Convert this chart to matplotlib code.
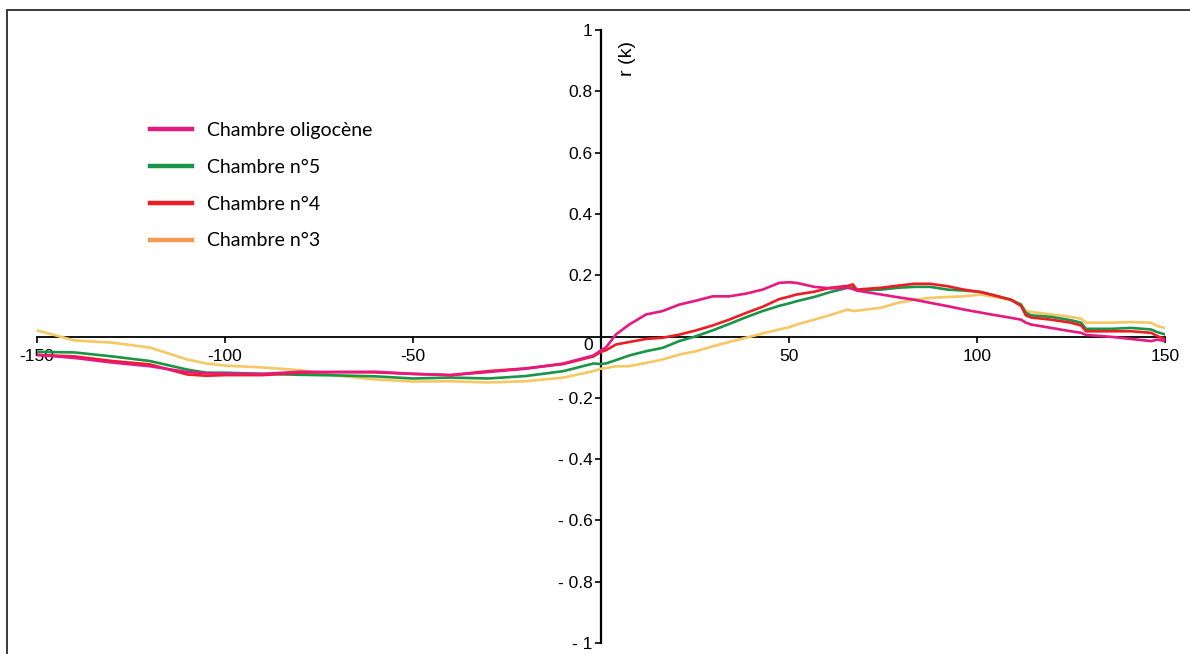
import matplotlib
matplotlib.use("Agg")
import matplotlib.pyplot as plt
from matplotlib.lines import Line2D
from matplotlib.patches import Rectangle

# ── Données ───────────────────────────────────────────────────────────────────
K = [-150, -140, -130, -120, -110, -105, -100,
     -90, -80, -70, -60, -50, -40, -30, -20, -10, -2,
     0, 1.3, 4, 7.5, 12, 16.4, 20.8, 25.3, 29.7, 34.1,
     38.6, 43, 47.4, 50, 52, 56.7, 61, 65.6, 67, 68,
     74.5, 79, 83.3, 87.5, 92.2, 96.5, 101, 103.7, 109, 111.7,
     113, 114.4, 119.7, 125, 127.7, 129, 135.6, 141, 146.3, 148,
     150]

R_N3 = [0.02, -0.013, -0.02, -0.036, -0.075, -0.088, -0.095,
        -0.101, -0.11, -0.128, -0.14, -0.147, -0.146, -0.15, -0.146, -0.134, -0.113,
        -0.105, -0.103, -0.097, -0.097, -0.086, -0.075, -0.059, -0.048, -0.032, -0.018,
        -0.004, 0.01, 0.023, 0.03, 0.039, 0.055, 0.07, 0.088, 0.083, 0.084,
        0.094, 0.11, 0.12, 0.126, 0.129, 0.131, 0.137, 0.131, 0.12, 0.104,
        0.083, 0.08, 0.072, 0.064, 0.058, 0.045, 0.045, 0.047, 0.045, 0.034,
        0.028]

R_N5 = [-0.05, -0.052, -0.065, -0.08, -0.108, -0.118, -0.118,
        -0.122, -0.125, -0.127, -0.13, -0.137, -0.134, -0.137, -0.129, -0.113, -0.088,
        -0.09, -0.088, -0.077, -0.062, -0.048, -0.037, -0.015, 0.001, 0.02, 0.041,
        0.063, 0.083, 0.1, 0.108, 0.115, 0.129, 0.145, 0.159, 0.16, 0.151,
        0.153, 0.159, 0.162, 0.162, 0.153, 0.15, 0.145, 0.137, 0.12, 0.104,
        0.077, 0.069, 0.064, 0.053, 0.045, 0.025, 0.025, 0.028, 0.023, 0.014,
        0.007]

R_N4 = [-0.06, -0.065, -0.08, -0.091, -0.124, -0.128, -0.126,
        -0.126, -0.118, -0.116, -0.117, -0.122, -0.126, -0.113, -0.104, -0.09, -0.065,
        -0.05, -0.045, -0.026, -0.018, -0.008, -0.004, 0.006, 0.02, 0.036, 0.055,
        0.077, 0.097, 0.122, 0.13, 0.137, 0.146, 0.159, 0.165, 0.17, 0.153,
        0.159, 0.166, 0.172, 0.172, 0.164, 0.153, 0.145, 0.137, 0.12, 0.1,
        0.069, 0.062, 0.055, 0.045, 0.036, 0.017, 0.017, 0.017, 0.012, 0.001,
        -0.008]

R_OLIGO = [-0.06, -0.07, -0.085, -0.097, -0.116, -0.12, -0.121,
           -0.122, -0.115, -0.116, -0.115, -0.122, -0.126, -0.116, -0.105, -0.088, -0.062,
           -0.045, -0.036, 0.007, 0.039, 0.072, 0.083, 0.104, 0.117, 0.131, 0.131,
           0.14, 0.153, 0.175, 0.177, 0.175, 0.162, 0.157, 0.159, 0.155, 0.15,
           0.137, 0.128, 0.12, 0.11, 0.099, 0.088, 0.078, 0.072, 0.061, 0.055,
           0.045, 0.039, 0.028, 0.017, 0.012, 0.005, -0.001, -0.008, -0.015, -0.01,
           -0.015]

LABELS = ["Chambre oligocène", "Chambre n°5", "Chambre n°4", "Chambre n°3"]

X_TICKS = [-150, -100, -50, 50, 100, 150]
X_TICKLABELS = ["-150", "-100", "-50", "50", "100", "150"]
Y_TICKS = [-1, -0.8, -0.6, -0.4, -0.2, 0.2, 0.4, 0.6, 0.8, 1]
Y_TICKLABELS = ["- 1", "- 0.8", "- 0.6", "- 0.4", "- 0.2", "0.2", "0.4", "0.6", "0.8", "1"]

# ── Couleurs ─────────────────────────────────────────────────────────────────
C_OLIGO = "#e5197f"
C_N5 = "#1a9447"
C_N4 = "#ee1c24"
C_N3 = "#f6c762"
C_N3_LEG = "#f59b52"

plt.rcParams["font.family"] = ["Liberation Sans", "DejaVu Sans"]

fig = plt.figure(figsize=(11.9, 6.54), dpi=100, facecolor="white")
ax = fig.add_axes([37 / 1190, 11 / 654, 1128 / 1190, 613 / 654])

ax.plot(K, R_N3, color=C_N3, lw=1.9, zorder=3)
ax.plot(K, R_N5, color=C_N5, lw=1.9, zorder=4)
ax.plot(K, R_N4, color=C_N4, lw=1.9, zorder=5)
ax.plot(K, R_OLIGO, color=C_OLIGO, lw=1.9, zorder=6)

ax.set_xlim(-150, 150)
ax.set_ylim(-1, 1)

# axes croisés en (0, 0)
ax.spines["left"].set_position(("data", 0))
ax.spines["bottom"].set_position(("data", 0))
ax.spines["top"].set_visible(False)
ax.spines["right"].set_visible(False)
ax.spines["left"].set_linewidth(1.6)
ax.spines["bottom"].set_linewidth(1.3)

ax.set_xticks(X_TICKS)
ax.set_xticklabels(X_TICKLABELS, fontsize=12.5)
ax.set_yticks(Y_TICKS)
ax.set_yticklabels(Y_TICKLABELS, fontsize=12.5)
ax.tick_params(axis="x", direction="out", length=4, width=1.2, pad=5)
ax.tick_params(axis="y", direction="out", length=4, width=1.2, pad=2)

fig.text(588 / 1190, 1 - 346 / 654, "0", fontsize=12.5, ha="center", va="center")
fig.text(628 / 1190, 1 - 58 / 654, "r (k)", fontsize=14, rotation=90,
         ha="center", va="center")

handles = [
    Line2D([], [], color=C_OLIGO, lw=3.2),
    Line2D([], [], color=C_N5, lw=3.2),
    Line2D([], [], color=C_N4, lw=3.2),
    Line2D([], [], color=C_N3_LEG, lw=3.2),
]
ax.legend(handles, LABELS, loc="upper left", bbox_to_anchor=(150 / 1190, 1 - 122 / 654),
          bbox_transform=fig.transFigure, frameon=False, borderpad=0, borderaxespad=0,
          handlelength=2.15, handletextpad=0.8, labelspacing=1.02,
          prop={"family": ["Lato", "DejaVu Sans"], "size": 14})

# cadre extérieur
fig.patches.append(Rectangle((7 / 1190, -0.05), 1.2, 1 - 10 / 654 + 0.05,
                             transform=fig.transFigure, fill=False,
                             edgecolor="#3a3a3a", lw=1.4))

fig.savefig("out.png", dpi=100, facecolor="white")
